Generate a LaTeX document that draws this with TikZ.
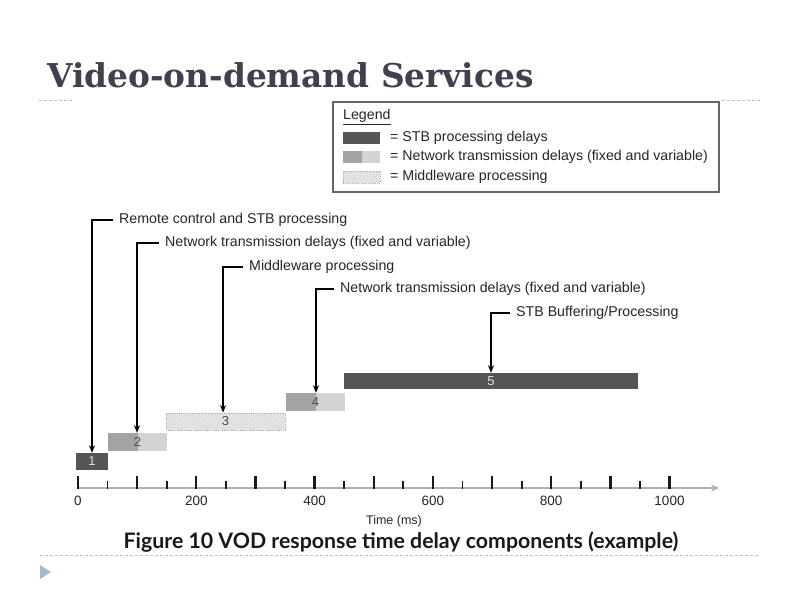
\documentclass[tikz,border=0pt]{standalone}
\usepackage{fontspec}
\setmainfont{Liberation Sans}
\newfontfamily\titlefont{DejaVu Serif}
\newfontfamily\capfont{Lato}
\usetikzlibrary{arrows.meta,patterns}
\definecolor{stbdark}{HTML}{555555}
\definecolor{netdark}{HTML}{A3A3A3}
\definecolor{netlight}{HTML}{D3D3D3}
\definecolor{mwfill}{HTML}{E8E8E8}
\definecolor{titlecol}{HTML}{404050}
\definecolor{dotcol}{HTML}{B4C2D2}
\definecolor{tricol}{HTML}{A4B8CE}
\definecolor{txt}{HTML}{262626}
\tikzset{
  lbl/.style={anchor=west, inner sep=0pt, text=txt, font=\fontsize{14.2}{16}\selectfont},
  arr/.style={draw=black, line width=1.3pt, -{Stealth[length=7.5pt,width=6pt]}},
  bar/.style={inner sep=0pt, font=\fontsize{13}{14}\selectfont},
  stbbar/.style={bar, fill=stbdark, text=white!88!black},
  netbar/.style={bar, fill=netlight, text=black!70,
    path picture={\fill[netdark] (path picture bounding box.south west) rectangle (path picture bounding box.north);}},
  mwbar/.style={bar, fill=mwfill, draw=gray!60, densely dotted, line width=0.8pt,
    postaction={pattern=north east lines, pattern color=gray!45}, text=black!70},
  tickmaj/.style={draw=black!90, line width=2.3pt},
  tickmin/.style={draw=black!90, line width=1.8pt},
  ticklbl/.style={inner sep=0pt, text=txt, font=\fontsize{13.5}{15}\selectfont},
  dotline/.style={draw=dotcol, line width=1pt, dash pattern=on 2.5pt off 2.5pt},
}
\begin{document}
\begin{tikzpicture}[x=1pt,y=-1pt]
\useasboundingbox[fill=white] (0,0) rectangle (800,600);

% title
\node[anchor=base west, inner sep=0pt, text=titlecol, font=\titlefont\bfseries\fontsize{32.8}{36}\selectfont] (title) at (47,87) {Video-on-demand Services};
\coordinate (dl1a) at (39,100); \coordinate (dl1b) at (73,100);
\coordinate (dl2a) at (722,100); \coordinate (dl2b) at (760,100);
\draw[dotline] (dl1a) -- (dl1b);
\draw[dotline] (dl2a) -- (dl2b);

% legend
\node[draw=black!60, line width=1.4pt, minimum width=386pt, minimum height=90pt, inner sep=0pt] (legend) at (526,147) {};
\node[lbl] (legtitle) at (343,117) {\underline{Legend}};
\node[stbbar, minimum width=37pt, minimum height=12pt] (sw1) at (361.5,138) {};
\node[netbar, minimum width=37pt, minimum height=12pt] (sw2) at (361.5,157) {};
\node[mwbar, minimum width=37pt, minimum height=12pt] (sw3) at (361.5,177) {};
\node[lbl] (lt1) at (390,138) {= STB processing delays};
\node[lbl] (lt2) at (390,157) {= Network transmission delays (fixed and variable)};
\node[lbl] (lt3) at (390,177) {= Middleware processing};

% bars
\node[stbbar, minimum width=32pt, minimum height=17pt] (bar1) at (92,461.5) {1};
\node[netbar, minimum width=59pt, minimum height=18pt] (bar2) at (137.5,442) {2};
\node[mwbar, minimum width=119pt, minimum height=17pt] (bar3) at (225.5,421.5) {3};
\node[netbar, minimum width=59pt, minimum height=18pt] (bar4) at (315.5,402) {4};
\node[stbbar, minimum width=294pt, minimum height=16pt] (bar5) at (491,381) {5};

% labels with arrows
\node[lbl] (l1) at (119,220) {Remote control and STB processing};
\node[lbl] (l2) at (165,243) {Network transmission delays (fixed and variable)};
\node[lbl] (l3) at (249,267) {Middleware processing};
\node[lbl] (l4) at (340,289) {Network transmission delays (fixed and variable)};
\node[lbl] (l5) at (516,313) {STB Buffering/Processing};
\coordinate (c1) at (92,220);
\coordinate (c2) at (137,243);
\coordinate (c3) at (223,267);
\coordinate (c4) at (316,289);
\coordinate (c5) at (491,313);
\draw[arr] ([xshift=-6pt]l1.west) -- (c1) -- (c1 |- bar1.north);
\draw[arr] ([xshift=-6pt]l2.west) -- (c2) -- (c2 |- bar2.north);
\draw[arr] ([xshift=-6pt]l3.west) -- (c3) -- (c3 |- bar3.north);
\draw[arr] ([xshift=-6pt]l4.west) -- (c4) -- (c4 |- bar4.north);
\draw[arr] ([xshift=-6pt]l5.west) -- (c5) -- (c5 |- bar5.north);

% axis
\coordinate (ax0) at (78,488);
\coordinate (ax1) at (719,488);
\draw[draw=black!30, line width=1.6pt, -{Stealth[length=8pt,width=7pt]}] (ax0) -- (ax1);
\foreach \i in {0,...,20}{
  \pgfmathsetmacro\tx{78+29.575*\i}
  \ifodd\i
    \draw[tickmin] (\tx,481) -- (\tx,489);
  \else
    \draw[tickmaj] (\tx,476) -- (\tx,489);
  \fi
}
\foreach \v [count=\k from 0] in {0,200,400,600,800,1000}{
  \pgfmathsetmacro\tx{78+118.3*\k}
  \node[ticklbl] (tl\k) at (\tx,501) {\v};
}
\node[inner sep=0pt, text=txt, font=\fontsize{12.5}{14}\selectfont] (axlbl) at (394,521) {Time (ms)};

% caption
\node[inner sep=0pt, font=\capfont\bfseries\fontsize{21.3}{24}\selectfont, text=black!90] (caption) at (401,542) {Figure 10 VOD response time delay components (example)};
\coordinate (dl3a) at (40,555); \coordinate (dl3b) at (760,555);
\draw[dotline] (dl3a) -- (dl3b);
\fill[tricol] (40,565) -- (51,572) -- (40,579) -- cycle;
\end{tikzpicture}
\end{document}
